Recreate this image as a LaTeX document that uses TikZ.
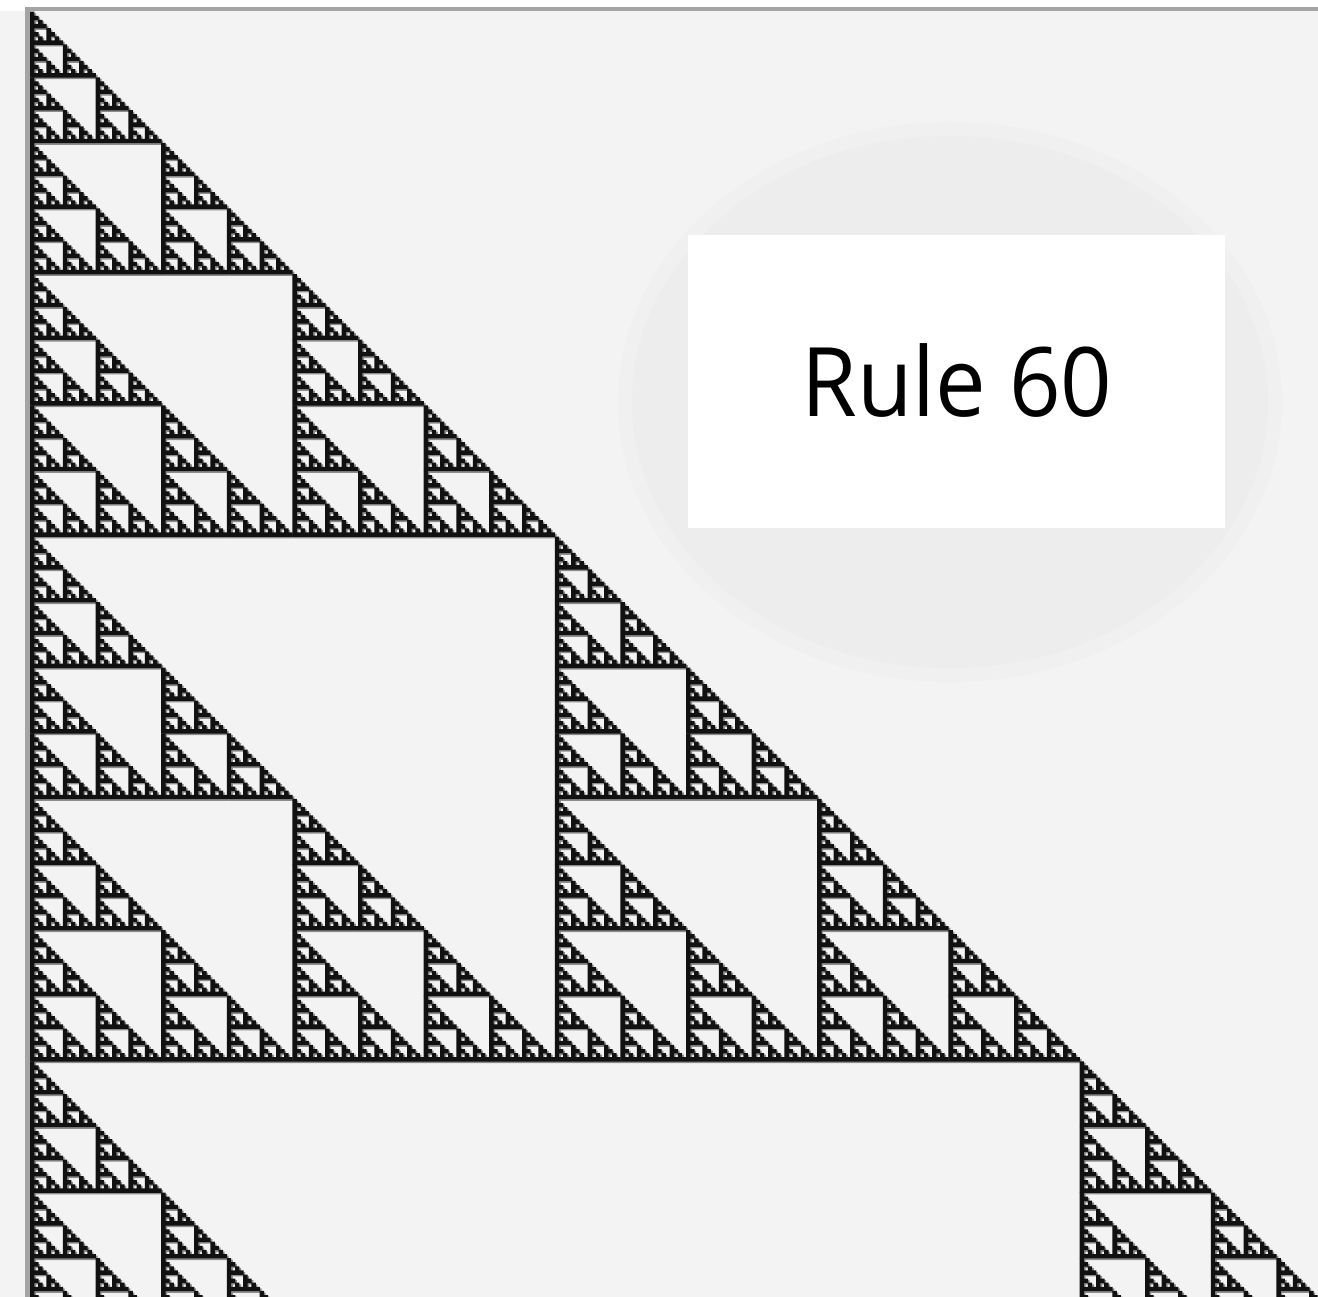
\documentclass[tikz,border=0pt]{standalone}
\usepackage{fontspec}
\setmainfont{Open Sans}
\definecolor{bgc}{HTML}{F3F3F3}
\definecolor{haloa}{HTML}{F0F0F0}
\definecolor{halob}{HTML}{EDEDED}
\definecolor{rulegray}{HTML}{A4A4A4}
\definecolor{cellc}{HTML}{111111}
\definecolor{shadowc}{HTML}{8C8C8C}
\newdimen\cs \cs=4.1pt
\newdimen\csb \csb=4.4pt
\newdimen\ox \newdimen\oy
\def\sier#1#2#3{%
  \ifnum#1>313 \else\ifnum#2>313 \else
    \ifnum#3=1
      \pgfpathrectangle{\pgfqpoint{\dimexpr\ox+30pt+#1\cs\relax}{\dimexpr\oy-12pt-#2\cs-\cs\relax}}{\pgfqpoint{\csb}{\csb}}%
    \else
      \edef\sierh{\the\numexpr#3/2\relax}%
      \edef\siernext{\noexpand\sier{#1}{#2}{\sierh}\noexpand\sier{#1}{\the\numexpr#2+\sierh\relax}{\sierh}\noexpand\sier{\the\numexpr#1+\sierh\relax}{\the\numexpr#2+\sierh\relax}{\sierh}}%
      \ifnum#3=16 \siernext\pgfusepath{fill}\else\siernext\fi
    \fi
  \fi\fi}
\tikzset{
  labelbox/.style={fill=white, inner sep=0pt, minimum width=537pt, minimum height=293pt},
  labeltext/.style={inner sep=0pt, font=\fontsize{96}{100}\selectfont, text=black}
}
\begin{document}
\begin{tikzpicture}
\useasboundingbox (0pt,0pt) rectangle (1318pt,-1297pt);
\fill[white] (0pt,0pt) rectangle (1318pt,-1297pt);
\fill[bgc] (0pt,-11pt) rectangle (1318pt,-1297pt);
\fill[haloa] (950pt,-402pt) ellipse [x radius=332pt, y radius=280pt];
\fill[halob] (950pt,-402pt) ellipse [x radius=318pt, y radius=266pt];
% frame lines
\fill[rulegray] (25pt,-7pt) rectangle (1318pt,-11pt);
\fill[rulegray] (25pt,-7pt) rectangle (29.5pt,-1297pt);
% cells: shadow then black
\begin{scope}
\pgfsetfillcolor{shadowc}
\ox=1.6pt \oy=-1.6pt
\sier{0}{0}{512}
\end{scope}
\begin{scope}
\pgfsetfillcolor{cellc}
\ox=0pt \oy=0pt
\sier{0}{0}{512}
\end{scope}
% label
\node[labelbox] (box) at (956.5pt,-381.5pt) {};
\node[labeltext] (label) at (957pt,-381pt) {\scalebox{0.94}[1]{Rule 60}};
\end{tikzpicture}
\end{document}
